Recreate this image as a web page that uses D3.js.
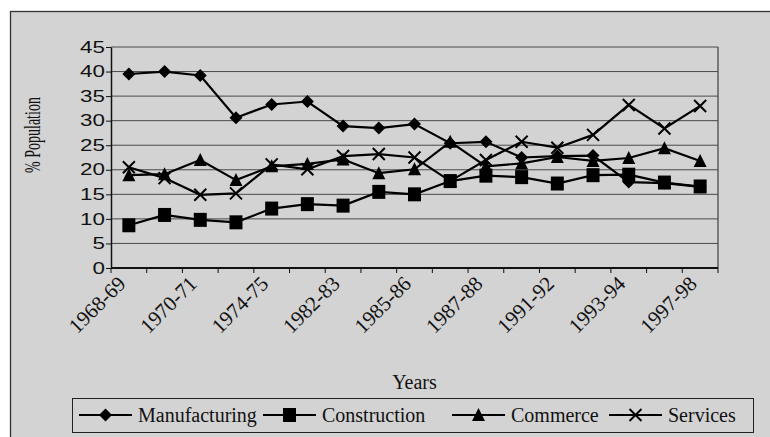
<!DOCTYPE html>
<html>
<head>
<meta charset="utf-8">
<script src="https://cdn.jsdelivr.net/npm/d3@7"></script>
<style>
  body { margin: 0; background: #fff; }
  svg { display: block; }
</style>
</head>
<body>
<svg id="chart" width="770" height="437"></svg>
<script>
// data
const years = ['1968-69', '1969-70', '1970-71', '1971-72', '1974-75', '1978-79', '1982-83', '1983-84',
  '1985-86', '1986-87', '1987-88', '1990-91', '1991-92', '1992-93', '1993-94', '1996-97', '1997-98'];
const manufacturing = [39.5, 40.0, 39.2, 30.6, 33.3, 33.9, 28.9, 28.5, 29.3, 25.4, 25.7, 22.5, 22.8, 22.9, 17.5, 17.3, 16.5];
const construction = [8.7, 10.8, 9.8, 9.3, 12.1, 13.0, 12.7, 15.5, 15.0, 17.7, 18.8, 18.5, 17.2, 18.9, 19.0, 17.4, 16.6];
const commerce = [18.9, 19.1, 22.0, 17.9, 20.7, 21.2, 22.1, 19.3, 20.1, 25.7, 20.7, 21.3, 22.6, 21.8, 22.4, 24.4, 21.8];
const services = [20.5, 18.3, 14.9, 15.2, 21.1, 20.1, 22.8, 23.2, 22.5, 17.7, 22.0, 25.7, 24.5, 27.1, 33.2, 28.4, 33.0];
const seriesNames = ['Manufacturing', 'Construction', 'Commerce', 'Services'];
const yTicks = [0, 5, 10, 15, 20, 25, 30, 35, 40, 45];

const gray = '#d3d3d3';
const ink = '#111';
const serif = '"Liberation Serif", "Times New Roman", serif';
const sans = '"Liberation Sans", Arial, sans-serif';

const plot = { left: 111, right: 718, top: 47, bottom: 268 };

const markers = {
  diamond: 'M0,-6.5L6.5,0L0,6.5L-6.5,0Z',
  square: 'M-6.5,-7H6.5V7H-6.5Z',
  triangle: 'M0,-7L6.5,6H-6.5Z',
  cross: 'M-6,-6L6,6M6,-6L-6,6'
};

const series = [
  { name: seriesNames[0], values: manufacturing, marker: 'diamond' },
  { name: seriesNames[1], values: construction, marker: 'square' },
  { name: seriesNames[2], values: commerce, marker: 'triangle' },
  { name: seriesNames[3], values: services, marker: 'cross' }
];

const svg = d3.select('#chart');

svg.append('rect')
  .attr('x', 10.5).attr('y', 11.5)
  .attr('width', 800).attr('height', 450)
  .attr('fill', gray)
  .attr('stroke', '#333')
  .attr('stroke-width', 1.3);

const x = d3.scaleBand()
  .domain(years)
  .range([plot.left, plot.right]);

const y = d3.scaleLinear()
  .domain([0, 45])
  .range([plot.bottom, plot.top]);

// grid
svg.append('g')
  .selectAll('line')
  .data(yTicks.filter(d => d > 0))
  .join('line')
  .attr('x1', plot.left).attr('x2', plot.right)
  .attr('y1', d => y(d)).attr('y2', d => y(d))
  .attr('stroke', '#4a4a4a')
  .attr('stroke-width', 1);

svg.append('line')
  .attr('x1', plot.right).attr('x2', plot.right)
  .attr('y1', y(45)).attr('y2', y(0))
  .attr('stroke', '#4a4a4a')
  .attr('stroke-width', 1.3);

// y axis, digits are drawn wide like in the source
const yAxis = svg.append('g')
  .attr('transform', `translate(${plot.left},0)`)
  .call(d3.axisLeft(y).tickValues(yTicks).tickSize(5).tickSizeOuter(0));
yAxis.select('.domain').attr('stroke', ink).attr('stroke-width', 1.5);
yAxis.selectAll('.tick line').attr('stroke', ink);
yAxis.selectAll('.tick text')
  .attr('x', 0)
  .attr('transform', 'translate(-6,0) scale(1.4,1)')
  .attr('font-family', sans)
  .attr('font-size', 16)
  .attr('fill', ink);

// x axis
const xAxis = svg.append('g')
  .attr('transform', `translate(0,${plot.bottom})`)
  .call(d3.axisBottom(x)
    .tickSize(0)
    .tickFormat((d, i) => (i % 2 === 0 ? d : '')));
xAxis.select('.domain').remove();
xAxis.selectAll('.tick text')
  .attr('x', 0).attr('y', 0).attr('dy', 0)
  .attr('text-anchor', 'end')
  .attr('transform', 'translate(-2,17) rotate(-45)')
  .attr('font-family', serif)
  .attr('font-size', 21)
  .attr('fill', ink);

xAxis.append('g')
  .selectAll('line')
  .data(years.map(d => x(d)).concat([plot.right]))
  .join('line')
  .attr('x1', d => d).attr('x2', d => d)
  .attr('y1', 0).attr('y2', 5)
  .attr('stroke', ink);

xAxis.append('line')
  .attr('x1', plot.left).attr('x2', plot.right)
  .attr('stroke', ink)
  .attr('stroke-width', 2);

// series
const lineGen = d3.line()
  .x((d, i) => x(years[i]) + x.bandwidth() / 2)
  .y(d => y(d));

const drawMarker = (sel, type) => {
  sel.attr('d', markers[type])
    .attr('fill', type === 'cross' ? 'none' : '#000')
    .attr('stroke', type === 'cross' ? '#000' : 'none')
    .attr('stroke-width', 2);
};

series.forEach(s => {
  const g = svg.append('g');
  g.append('path')
    .attr('d', lineGen(s.values))
    .attr('fill', 'none')
    .attr('stroke', '#000')
    .attr('stroke-width', 2.2);
  g.selectAll('path.mark')
    .data(s.values)
    .join('path')
    .classed('mark', true)
    .attr('transform', (d, i) => `translate(${x(years[i]) + x.bandwidth() / 2},${y(d)})`)
    .call(drawMarker, s.marker);
});

// axis titles
svg.append('text')
  .attr('transform', 'translate(40,135) scale(1.7,1) rotate(-90)')
  .attr('text-anchor', 'middle')
  .attr('font-family', serif)
  .attr('font-size', 14)
  .attr('fill', ink)
  .text('% Population');

svg.append('text')
  .attr('x', (plot.left + plot.right) / 2)
  .attr('y', 389)
  .attr('text-anchor', 'middle')
  .attr('font-family', serif)
  .attr('font-size', 20)
  .attr('fill', ink)
  .text('Years');

// legend
const legendX = [79, 263, 452, 609];
const legend = svg.append('g');
legend.append('rect')
  .attr('x', 72.5).attr('y', 398.5)
  .attr('width', 681).attr('height', 34)
  .attr('fill', gray)
  .attr('stroke', '#222')
  .attr('stroke-width', 1);

const items = legend.selectAll('g.item')
  .data(series)
  .join('g')
  .classed('item', true)
  .attr('transform', (d, i) => `translate(${legendX[i]},415)`);

items.append('line')
  .attr('x1', 0).attr('x2', 53)
  .attr('stroke', '#000')
  .attr('stroke-width', 2.2);

items.append('path')
  .attr('transform', 'translate(26.5,0)')
  .each(function (d) { d3.select(this).call(drawMarker, d.marker); });

items.append('text')
  .attr('x', 59).attr('y', 7)
  .attr('font-family', serif)
  .attr('font-size', 20)
  .attr('fill', ink)
  .text(d => d.name);
</script>
</body>
</html>
